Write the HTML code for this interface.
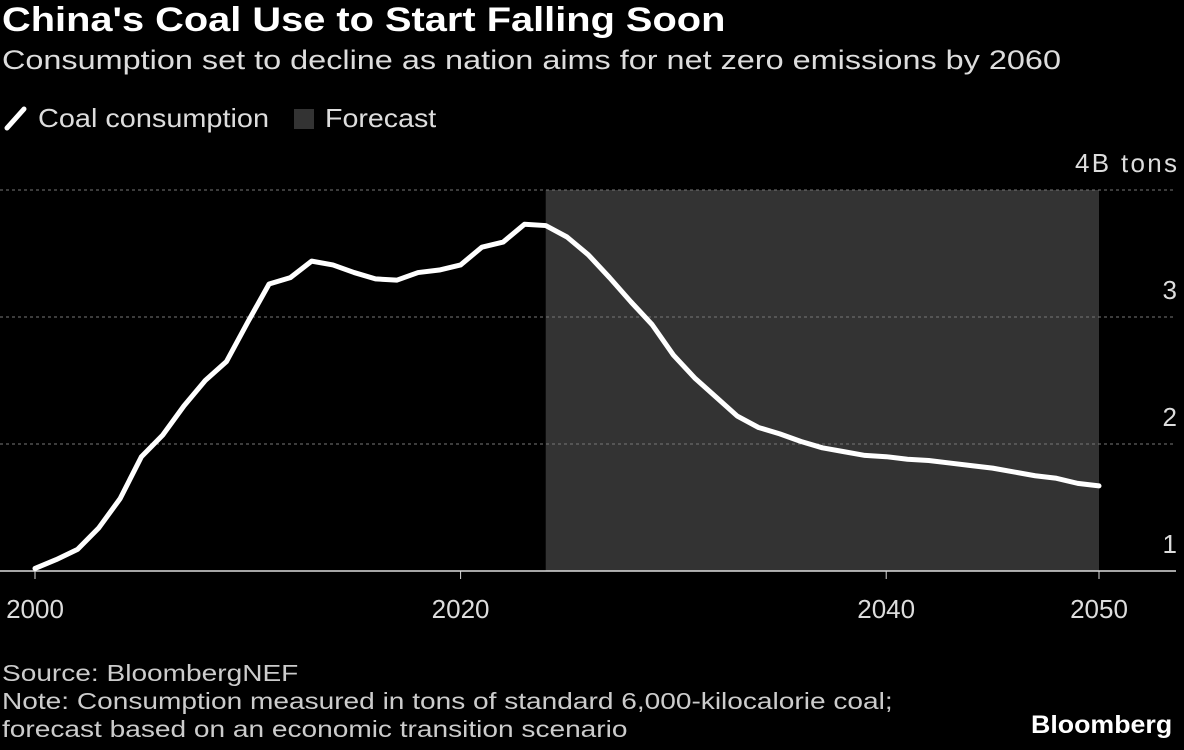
<!DOCTYPE html>
<html><head><meta charset="utf-8">
<style>
body{margin:0;width:1184px;height:750px;background:#000;overflow:hidden;font-family:"Liberation Sans",sans-serif;color:#fff}
.t{position:absolute;white-space:nowrap;transform-origin:0 0}
</style></head><body>
<div class="t" style="left:2px;top:1px;font-size:34px;font-weight:bold;transform:scaleX(1.17)">China's Coal Use to Start Falling Soon</div>
<div class="t" style="left:2px;top:45px;font-size:27px;color:#ddd;transform:scaleX(1.2)">Consumption set to decline as nation aims for net zero emissions by 2060</div>
<div>
<svg class="t" style="left:4px;top:104px" width="24" height="28"><line x1="3" y1="24" x2="20" y2="5" stroke="#fff" stroke-width="5" stroke-linecap="round"/></svg>
<div class="t" style="left:38px;top:103px;font-size:26px;color:#ddd;transform:scaleX(1.11)">Coal consumption</div>
<div class="t" style="left:294px;top:109px;width:20px;height:20px;background:#333"></div>
<div class="t" style="left:325px;top:103px;font-size:26px;color:#ddd;transform:scaleX(1.1)">Forecast</div>
</div>
<svg id="chart" class="t" style="left:0;top:0" width="1184" height="750"></svg>
<div class="t" style="left:2px;top:659px;font-size:23px;color:#ccc;line-height:28px;transform:scaleX(1.22)">Source: BloombergNEF<br>Note: Consumption measured in tons of standard 6,000-kilocalorie coal;<br>forecast based on an economic transition scenario</div>
<div class="t" style="left:1031px;top:711px;font-size:25px;font-weight:bold;transform:scaleX(1.07)">Bloomberg</div>
<script>
const years=[2000,2001,2002,2003,2004,2005,2006,2007,2008,2009,2010,2011,2012,2013,2014,2015,2016,2017,2018,2019,2020,2021,2022,2023,2024,2025,2026,2027,2028,2029,2030,2031,2032,2033,2034,2035,2036,2037,2038,2039,2040,2041,2042,2043,2044,2045,2046,2047,2048,2049,2050];
const consumption=[1.02,1.09,1.17,1.34,1.57,1.90,2.07,2.30,2.50,2.65,2.96,3.26,3.31,3.44,3.41,3.35,3.30,3.29,3.35,3.37,3.41,3.55,3.59,3.73,3.72,3.63,3.49,3.31,3.12,2.94,2.70,2.52,2.37,2.22,2.13,2.08,2.02,1.97,1.94,1.91,1.90,1.88,1.87,1.85,1.83,1.81,1.78,1.75,1.73,1.69,1.67];
const yTicks=[1,2,3,4];
const yTickLabels=["1","2","3","4B tons"];
const xTicks=[2000,2020,2040,2050];
const forecastRange=[2024,2050];
const ns="http://www.w3.org/2000/svg";
const svg=document.getElementById('chart');
const X=y=>35+(y-2000)*(1099-35)/50;
const Y=v=>571-(v-1)*127;
function mk(t,a){const e=document.createElementNS(ns,t);for(const k in a)e.setAttribute(k,a[k]);svg.appendChild(e);return e;}
const fr=mk('rect',{x:X(forecastRange[0]),y:Y(4),width:X(forecastRange[1])-X(forecastRange[0]),height:Y(1)-Y(4),fill:'#333'});


yTicks.forEach((v,i)=>{
 if(v>1){const g=mk('line',{x1:0,x2:1176,y1:Y(v),y2:Y(v),stroke:'#777','stroke-dasharray':'3,3'});
 
 }
 const t=mk('text',{x:1177,y:Y(v)-18,'text-anchor':'end','font-size':26,fill:'#ddd','font-family':'Liberation Sans'});
 t.textContent=yTickLabels[i];
 if(i===3)t.setAttribute('textLength',102);
 
 
});
const ax=mk('line',{x1:0,x2:1176,y1:Y(1),y2:Y(1),stroke:'#ddd','stroke-width':1.5});


xTicks.forEach(yr=>{
 const tk=mk('line',{x1:X(yr),x2:X(yr),y1:Y(1),y2:Y(1)+8,stroke:'#ddd'});
 
 
 const t=mk('text',{x:X(yr),y:618,'text-anchor':'middle','font-size':26,fill:'#ddd','font-family':'Liberation Sans'});
 t.textContent=yr;
 
 
});
const p=mk('polyline',{points:years.map((y,i)=>X(y)+','+Y(consumption[i])).join(' '),fill:'none',stroke:'#fff','stroke-width':5,'stroke-linejoin':'round','stroke-linecap':'round'});


</script>
</body></html>
